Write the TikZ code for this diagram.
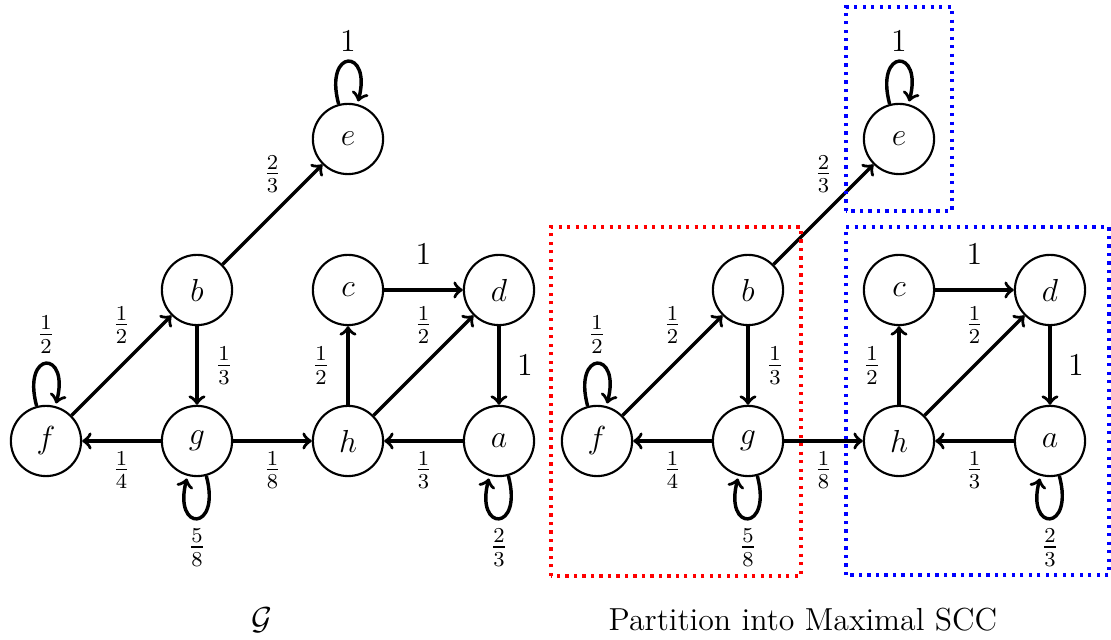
\documentclass[tikz,border=0pt]{standalone}
\usepackage{amsmath,amsfonts}
\usepackage{tikz}
\usetikzlibrary{automata,positioning,arrows}

\begin{document}
\begin{tikzpicture}[->,>=to,auto,node distance=2cm,
                    line width=1.3pt]
\tikzstyle{every state}=[fill=none,draw=black,text=black,line width=0.8pt]
\tikzset{font=\large}

\useasboundingbox (-0.609,-2.623) rectangle (14.106,5.841);

        % the graph G
        \node[state,inner sep=2pt,minimum size=0.93cm]               (f)   at (0,0)               {$f$};
        \node[state,inner sep=2pt,minimum size=0.93cm]               (g)   [right of=f]           {$g$};
        \node[state,inner sep=2pt,minimum size=0.93cm]               (h)   [right of=g]           {$h$};
        \node[state,inner sep=2pt,minimum size=0.93cm]               (a)   [right of=h]           {$a$};
        \node[state,inner sep=2pt,minimum size=0.93cm]               (b)   [above of=g]           {$b$};
        \node[state,inner sep=2pt,minimum size=0.93cm]               (c)   [above of=h]           {$c$};
        \node[state,inner sep=2pt,minimum size=0.93cm]               (d)   [above of=a]           {$d$};
        \node[state,inner sep=2pt,minimum size=0.93cm]               (e)   [above of=c]           {$e$};

        \node[draw=none]                (G)   at (2.861,-2.371)      {$\mathcal{G}$};

        \path[->]
        (f)   edge [loop above] node {$\frac{1}{2}$}            ()
        (f)   edge node[above=1.5mm] {$\frac{1}{2}$}            (b)
        (b)   edge node[right=1mm] {$\frac{1}{3}$}              (g)
        (b)   edge node[above=1.5mm] {$\frac{2}{3}$}            (e)
        (e)   edge [loop above] node {$1$}                      ()
        (g)   edge node[below] {$\frac{1}{4}$}                  (f)
        (g)   edge [loop below] node {$\frac{5}{8}$}            ()
        (g)   edge node[below] {$\frac{1}{8}$}                  (h)
        (h)   edge node[left=1mm] {$\frac{1}{2}$}               (c)
        (h)   edge node[above=1.5mm] {$\frac{1}{2}$}            (d)
        (c)   edge node[above=2mm] {$1$}                        (d)
        (d)   edge node[right=1mm] {$1$}                        (a)
        (a)   edge node[below] {$\frac{1}{3}$}                  (h)
        (a)   edge [loop below] node {$\frac{2}{3}$}            ()
        ; %end path

        % the partition into SCCs
        \node[state,inner sep=2pt,minimum size=0.93cm]               (f2)  at (7.298,0)           {$f$};
        \node[state,inner sep=2pt,minimum size=0.93cm]               (g2)  [right of=f2]          {$g$};
        \node[state,inner sep=2pt,minimum size=0.93cm]               (h2)  [right of=g2]          {$h$};
        \node[state,inner sep=2pt,minimum size=0.93cm]               (a2)  [right of=h2]          {$a$};
        \node[state,inner sep=2pt,minimum size=0.93cm]               (b2)  [above of=g2]          {$b$};
        \node[state,inner sep=2pt,minimum size=0.93cm]               (c2)  [above of=h2]          {$c$};
        \node[state,inner sep=2pt,minimum size=0.93cm]               (d2)  [above of=a2]          {$d$};
        \node[state,inner sep=2pt,minimum size=0.93cm]               (e2)  [above of=c2]          {$e$};

        \node[draw=none]                (P)   at (10.026,-2.371)     {Partition into Maximal SCC};

        \path[->]
        (f2)  edge [loop above] node {$\frac{1}{2}$}            ()
        (f2)  edge node[above=1.5mm] {$\frac{1}{2}$}            (b2)
        (b2)  edge node[right=1mm] {$\frac{1}{3}$}              (g2)
        (b2)  edge node[above=1.5mm] {$\frac{2}{3}$}            (e2)
        (e2)  edge [loop above] node {$1$}                      ()
        (g2)  edge node[below] {$\frac{1}{4}$}                  (f2)
        (g2)  edge [loop below] node {$\frac{5}{8}$}            ()
        (g2)  edge node[below] {$\frac{1}{8}$}                  (h2)
        (h2)  edge node[left=1mm] {$\frac{1}{2}$}               (c2)
        (h2)  edge node[above=1.5mm] {$\frac{1}{2}$}            (d2)
        (c2)  edge node[above=2mm] {$1$}                        (d2)
        (d2)  edge node[right=1mm] {$1$}                        (a2)
        (a2)  edge node[below] {$\frac{1}{3}$}                  (h2)
        (a2)  edge [loop below] node {$\frac{2}{3}$}            ()
        ; %end path

        % the boxes round each SCC
        \draw[-,red,dotted,line width=1.2pt]  (6.689,-1.788) rectangle (10.0,2.834);
        \draw[-,blue,dotted,line width=1.2pt] (10.596,3.046) rectangle (12.0,5.748);
        \draw[-,blue,dotted,line width=1.2pt] (10.596,-1.775) rectangle (14.079,2.834);

\end{tikzpicture}
\end{document}
